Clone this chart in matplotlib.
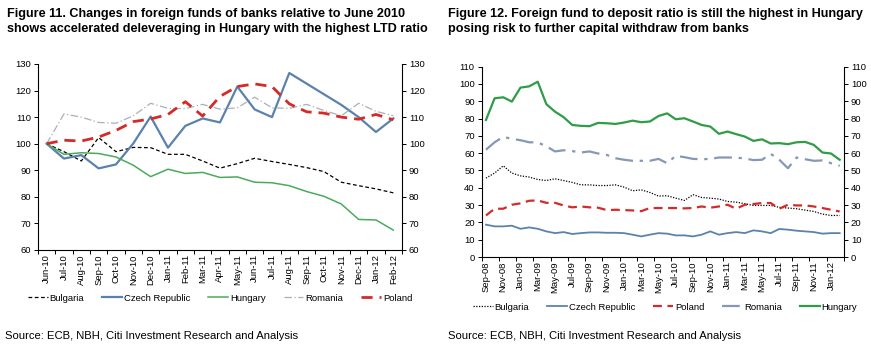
import matplotlib
matplotlib.use("Agg")
import matplotlib.pyplot as plt
import numpy as np

plt.rcParams['font.family'] = ['Liberation Sans', 'DejaVu Sans']

# ---- Figure 11 data (index, Jun-10 = 100)
months_l = ['Jun-10', 'Jul-10', 'Aug-10', 'Sep-10', 'Oct-10', 'Nov-10', 'Dec-10',
            'Jan-11', 'Feb-11', 'Mar-11', 'Apr-11', 'May-11', 'Jun-11', 'Jul-11',
            'Aug-11', 'Sep-11', 'Oct-11', 'Nov-11', 'Dec-11', 'Jan-12', 'Feb-12']
bulgaria_l = [100, 97, 93.5, 102.3, 97, 98.6, 98.5, 96, 96, 93.5, 90.8, 92.5, 94.5,
              93.3, 92.2, 91, 89.5, 85.5, 84.2, 83, 81.5]
czech_l = [100, 94.4, 95.7, 90.7, 92.2, 100.1, 110.2, 98.5, 106.7, 109.5, 108, 121.5,
           112.9, 110, 126.6, 122.6, 118.6, 114.6, 110, 104.4, 109.5]
hungary_l = [100, 96, 96.6, 96.3, 95, 91.9, 87.6, 90.4, 88.8, 89.2, 87.3, 87.5, 85.5,
             85.3, 84.2, 82, 80.2, 77.3, 71.5, 71.3, 67.5]
romania_l = [100, 111.2, 110, 108, 107.7, 110.5, 115.2, 113.3, 113.2, 114.8, 113,
             113.5, 117.5, 113.5, 113.3, 114.8, 112.5, 110.5, 115.2, 112.2, 110.5]
poland_l = [100, 101.3, 101, 102.5, 105, 108.3, 109.3, 111, 115.8, 110.4, 117.8,
            121.5, 122.5, 121.5, 115, 112, 111.5, 110, 109.2, 111, 109]

# ---- Figure 12 data (foreign fund to deposit ratio, %), Sep-08 .. Feb-12
mnames = ['Jan', 'Feb', 'Mar', 'Apr', 'May', 'Jun', 'Jul', 'Aug', 'Sep', 'Oct', 'Nov', 'Dec']
months_r = []
for k in range(42):
    m = 8 + k
    months_r.append('%s-%02d' % (mnames[m % 12], 8 + m // 12))
hungary_r = [79.2, 91.7, 92.3, 89.8, 97.9, 98.6, 101.3, 88.3, 84, 80.8, 76.3, 75.8,
             75.6, 77.5, 77.3, 76.9, 77.7, 78.8, 77.9, 78.3, 81.5, 83, 79.6, 80.2,
             78.3, 76.3, 75.4, 71.2, 72.5, 71, 69.6, 67.1, 68, 65.6, 65.8, 65.2,
             66.3, 66.5, 64.8, 60.4, 59.8, 56.2]
romania_r = [62, 66.3, 69.4, 68.3, 67.5, 66.3, 66.2, 64, 61, 61.7, 61.2, 60.4, 61,
             59.8, 59, 57.1, 56.2, 55.6, 55.6, 55.6, 56.7, 54.2, 58.5, 57.7, 56.7,
             56.5, 56.7, 57.5, 57.5, 57.5, 56.9, 56, 56.2, 59.6, 56.2, 51.3, 57.5,
             56.5, 55.6, 55.8, 54.2, 52.7]
bulgaria_r = [45.6, 48.5, 52.7, 48.5, 46.9, 46.2, 44.8, 44.2, 45.2, 44.2, 43.1, 41.7,
              41.7, 41.3, 41.3, 41.7, 40.4, 38.3, 38.8, 37.3, 35.2, 35.4, 34, 32.7,
              36, 34.4, 34, 33.5, 32.1, 31.7, 30.8, 29.8, 29.8, 29.8, 28.7, 28.3,
              27.9, 27.1, 26.3, 24.8, 24, 24]
poland_r = [24, 27.9, 27.9, 30.2, 31, 32.5, 32.7, 31.3, 31.3, 29.8, 28.7, 29.2, 28.7,
            28.5, 27.1, 27.3, 27.1, 26.9, 26.5, 28.3, 28.3, 28.3, 28.3, 28.1, 28.3,
            29.2, 28.5, 29.2, 30.2, 27.9, 30.2, 30.6, 31.2, 31.2, 27.9, 30.2, 29.8,
            29.8, 29.2, 28.3, 27.3, 26.3]
czech_r = [18.7, 17.7, 17.7, 18.1, 16.3, 17.1, 16.3, 14.8, 13.8, 14.4, 13.3, 13.8,
           14.2, 14.2, 14, 14, 13.8, 12.9, 11.9, 12.9, 13.8, 13.5, 12.5, 12.5, 11.9,
           12.9, 14.8, 12.9, 13.8, 14.4, 13.8, 15.4, 14.8, 13.8, 16.2, 15.8, 15.2,
           14.8, 14.4, 13.5, 13.8, 13.8]

fig = plt.figure(figsize=(8.71, 3.49), dpi=100)

def style_axes(ax, n, lo, hi, step, major_every):
    ax.set_xlim(-0.5, n - 0.5)
    ax.set_ylim(lo, hi)
    ax.spines['top'].set_visible(False)
    for s in ['left', 'right', 'bottom']:
        ax.spines[s].set_linewidth(0.8)
    ax.set_yticks(np.arange(lo, hi + 1, step))
    ax.tick_params(axis='y', which='both', direction='out', length=3, width=0.7,
                   labelsize=6.8, right=True, labelright=True, pad=2)
    ax.set_xticks(np.arange(-0.5, n, major_every), minor=True)
    ax.tick_params(axis='x', which='minor', length=3, width=0.7, direction='out')
    ax.tick_params(axis='x', which='major', length=0, labelsize=6.8, pad=3)

leg_kw = dict(loc='center', bbox_transform=fig.transFigure, ncol=5, frameon=False,
              fontsize=6.8, handlelength=2.1, handletextpad=0.2, columnspacing=1.9)

# ---- left chart
ax1 = fig.add_axes([0.0436, 0.2837, 0.4179, 0.533])
x1 = np.arange(len(months_l))
ax1.plot(x1, bulgaria_l, color='black', lw=0.9, ls=(0, (3, 2)), label='Bulgaria')
ax1.plot(x1, czech_l, color='#5b82ad', lw=1.6, label='Czech Republic')
ax1.plot(x1, hungary_l, color='#4aab5c', lw=1.1, label='Hungary')
ax1.plot(x1, romania_l, color='#a9b0b8', lw=0.9, ls=(0, (6, 2, 1, 2)), label='Romania')
ax1.plot(x1, poland_l, color='#d42a2a', lw=2.0, ls=(0, (4, 2.5)), label='Poland')
style_axes(ax1, len(months_l), 60, 130, 10, 1)
ax1.set_xticks(x1)
ax1.set_xticklabels(months_l, rotation=90)
ax1.legend(bbox_to_anchor=(0.2526, 0.146), **leg_kw)

# ---- right chart
ax2 = fig.add_axes([0.553, 0.2636, 0.4160, 0.5454])
x2 = np.arange(len(months_r))
ax2.plot(x2, bulgaria_r, color='black', lw=0.9, ls=(0, (1, 1.2)), label='Bulgaria')
ax2.plot(x2, czech_r, color='#5b82ad', lw=1.3, label='Czech Republic')
ax2.plot(x2, poland_r, color='#d42a2a', lw=1.6, ls=(0, (4, 2.5)), label='Poland')
ax2.plot(x2, romania_r, color='#8599b5', lw=1.6, ls=(0, (8, 3, 1.5, 3)), label='Romania')
ax2.plot(x2, hungary_r, color='#2f9c47', lw=1.6, label='Hungary')
style_axes(ax2, len(months_r), 0, 110, 10, 2)
ax2.set_xticks(x2[::2])
ax2.set_xticklabels(months_r[::2], rotation=90)
ax2.legend(bbox_to_anchor=(0.7635, 0.12), **leg_kw)

# ---- titles and sources
fig.text(0.008, 0.978, 'Figure 11. Changes in foreign funds of banks relative to June 2010\n'
         'shows accelerated deleveraging in Hungary with the highest LTD ratio',
         fontsize=9.1, fontweight='bold', va='top', ha='left', linespacing=1.4)
fig.text(0.514, 0.978, 'Figure 12. Foreign fund to deposit ratio is still the highest in Hungary\n'
         'posing risk to further capital withdraw from banks',
         fontsize=9.1, fontweight='bold', va='top', ha='left', linespacing=1.4)
fig.text(0.006, 0.037, 'Source: ECB, NBH, Citi Investment Research and Analysis',
         fontsize=8.1, va='center', ha='left')
fig.text(0.514, 0.037, 'Source: ECB, NBH, Citi Investment Research and Analysis',
         fontsize=8.1, va='center', ha='left')

fig.savefig('out.png', dpi=100)
